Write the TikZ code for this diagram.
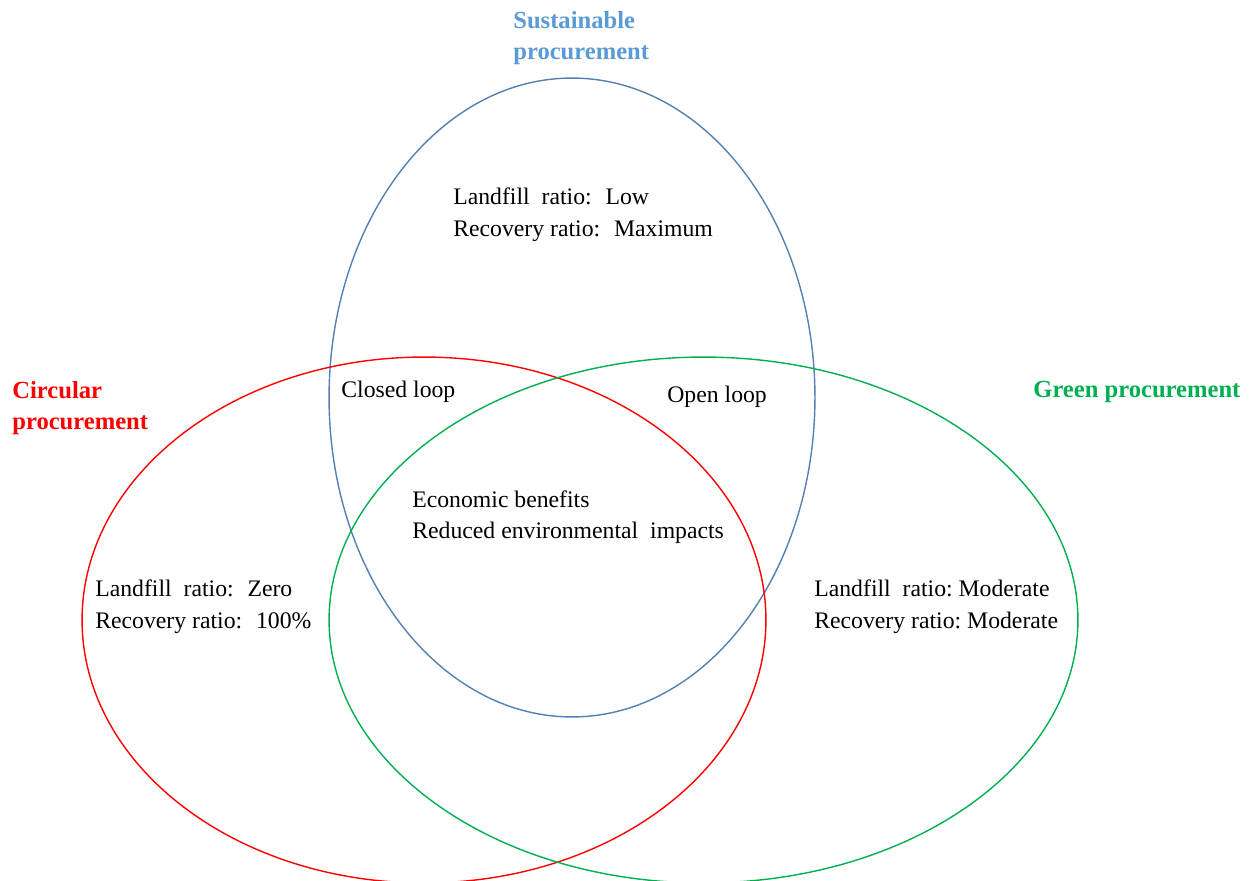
\documentclass[tikz,border=0pt]{standalone}
\usepackage{fontspec}
\setmainfont{Liberation Serif}
\usetikzlibrary{shapes.geometric,positioning}
\definecolor{sustline}{RGB}{84,128,178}
\definecolor{susttext}{RGB}{91,155,213}
\definecolor{circred}{RGB}{255,0,0}
\definecolor{greenproc}{RGB}{0,176,80}

\tikzset{
  set/.style={ellipse, draw, line width=0.8pt, inner sep=0pt},
  info/.style={anchor=west, align=left, inner sep=0pt, font=\fontsize{13.5}{18}\selectfont},
  title/.style={anchor=west, align=left, inner sep=0pt, font=\fontsize{14}{18}\selectfont\bfseries}
}

\begin{document}
\begin{tikzpicture}[x=0.02cm, y=-0.02cm]
\useasboundingbox (0,0) rectangle (1250,881);
\clip (0,0) rectangle (1250,881);

% the three sets
\node (sust) [set, draw=sustline, minimum width=9.72cm, minimum height=12.78cm] at (572,397.5) {};
\node (circ) [set, draw=circred, minimum width=13.68cm, minimum height=10.52cm] at (424,620) {};
\node (green) [set, draw=greenproc, minimum width=14.98cm, minimum height=10.52cm] at (703.5,620) {};

% set titles
\node (sustname) [title, text=susttext] at (513,38) {Sustainable\\procurement};
\node (circname) [title, text=circred] at (12,408) {Circular\\procurement};
\node (greenname) [title, text=greenproc] at (1033,392) {Green procurement};

% region labels
\node (sustonly) [info] at (453,215) {Landfill~ ratio:~ Low\\Recovery ratio:~ Maximum};
\node (closed) [info] at (341,392) {Closed loop};
\node (open) [info] at (667,397) {Open loop};
\node (core) [info] at (412,517) {Economic benefits\\Reduced environmental~ impacts};
\node (circonly) [info] at (95,607) {Landfill~ ratio:~ Zero\\Recovery ratio:~ 100\%};
\node (greenonly) [info] at (814,607) {Landfill~ ratio:~Moderate\\Recovery ratio:~Moderate};
\end{tikzpicture}
\end{document}
